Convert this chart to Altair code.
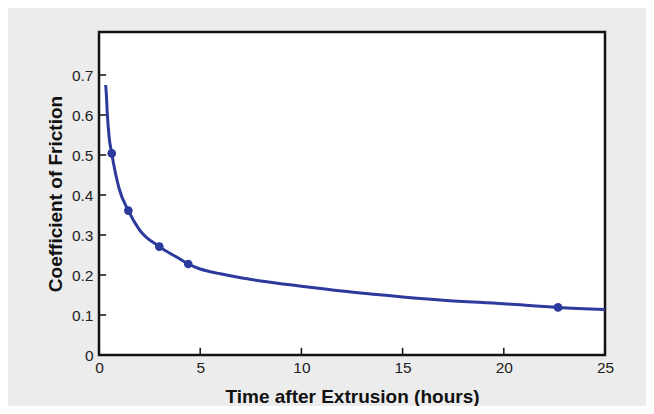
import altair as alt
import pandas as pd

# fitted curve
curve_t = [0.33, 0.36, 0.41, 0.5, 0.63, 1.0, 1.45, 2.0, 2.98, 4.0, 4.41, 5.0, 6.0, 7.0, 8.0,
           10.0, 12.0, 14.0, 15.0, 17.0, 20.0, 22.68, 25.0]
curve_cof = [0.675, 0.654, 0.604, 0.545, 0.504, 0.415, 0.361, 0.313, 0.271, 0.24, 0.2275,
             0.215, 0.203, 0.193, 0.185, 0.172, 0.16, 0.15, 0.145, 0.137, 0.128, 0.119, 0.114]

# measured points
point_t = [0.63, 1.45, 2.98, 4.41, 22.68]
point_cof = [0.504, 0.361, 0.271, 0.2275, 0.119]

x_ticks = [0, 5, 10, 15, 20, 25]
y_ticks = [0, 0.1, 0.2, 0.3, 0.4, 0.5, 0.6, 0.7]

BLUE = "#2b3a9c"
FONT = "Liberation Sans"

curve_df = pd.DataFrame({"t": curve_t, "cof": curve_cof})
point_df = pd.DataFrame({"t": point_t, "cof": point_cof})
xt_df = pd.DataFrame({"t": x_ticks, "y0": [0] * len(x_ticks), "y1": [0.018] * len(x_ticks)})
yt_df = pd.DataFrame({"cof": y_ticks, "x0": [0] * len(y_ticks), "x1": [0.35] * len(y_ticks)})

xscale = alt.Scale(domain=[0, 25], nice=False, zero=False)
yscale = alt.Scale(domain=[0, 0.8075], nice=False, zero=False)

xaxis = alt.Axis(values=x_ticks, title="Time after Extrusion (hours)", ticks=False, grid=False,
                 domain=False, labelFlush=False, labelPadding=5, labelFontSize=15.5,
                 labelColor="#222222", labelFont=FONT, titleFont=FONT, titleFontSize=19,
                 titleFontWeight="bold", titleColor="#111111", titlePadding=12)
yaxis = alt.Axis(values=y_ticks, title="Coefficient of Friction", ticks=False, grid=False,
                 domain=False, labelPadding=6, labelFontSize=15.5, labelColor="#222222",
                 labelFont=FONT, titleFont=FONT, titleFontSize=19, titleFontWeight="bold",
                 titleColor="#111111", titlePadding=6,
                 labelExpr="datum.value == 0 ? '0' : format(datum.value, '.1f')")

line = alt.Chart(curve_df).mark_line(color=BLUE, strokeWidth=3, interpolate="monotone").encode(
    x=alt.X("t:Q", scale=xscale, axis=xaxis),
    y=alt.Y("cof:Q", scale=yscale, axis=yaxis),
)
pts = alt.Chart(point_df).mark_circle(color=BLUE, size=75, opacity=1).encode(
    x=alt.X("t:Q", scale=xscale),
    y=alt.Y("cof:Q", scale=yscale),
)
xticks = alt.Chart(xt_df).mark_rule(color="#111111", strokeWidth=1.5).encode(
    x=alt.X("t:Q", scale=xscale), y=alt.Y("y0:Q", scale=yscale), y2="y1:Q"
)
yticks = alt.Chart(yt_df).mark_rule(color="#111111", strokeWidth=1.5).encode(
    y=alt.Y("cof:Q", scale=yscale), x=alt.X("x0:Q", scale=xscale), x2="x1:Q"
)

chart = alt.layer(xticks, yticks, line, pts).properties(
    width=506, height=323, autosize="none",
    padding={"left": 91, "top": 24, "right": 41, "bottom": 51},
    background="#ececec",
).configure_view(fill="white", stroke="#111111", strokeWidth=2.5)

chart.save("out.html", embed_options={"renderer": "svg", "actions": False})
